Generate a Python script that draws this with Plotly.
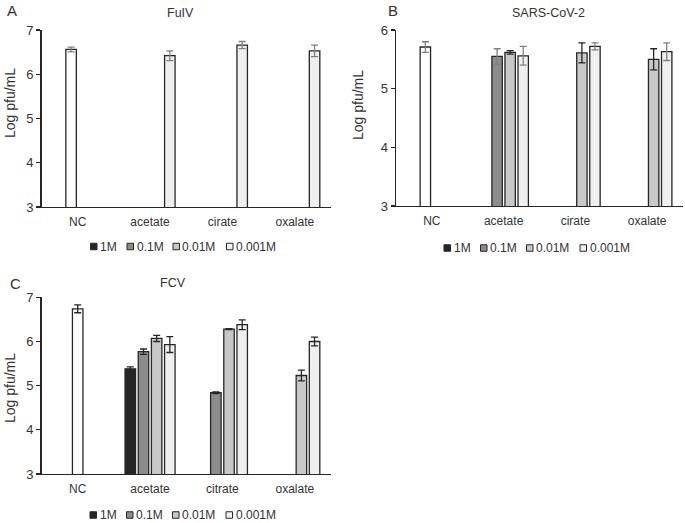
import plotly.graph_objects as go

# ---------------- data ----------------
CATS_AB = ["NC", "acetate", "cirate", "oxalate"]
CATS_C = ["NC", "acetate", "citrate", "oxalate"]
SERIES = ["1M", "0.1M", "0.01M", "0.001M"]

# Panel A: FuIV
A_NC = [6.56]
A_NC_ERR = [0.055]
A_1M = [None, None, None, None]
A_01M = [None, None, None, None]
A_001M = [None, None, None, None]
A_0001M = [None, 6.42, 6.66, 6.53]
A_1M_ERR = [0, 0, 0, 0]
A_01M_ERR = [0, 0, 0, 0]
A_001M_ERR = [0, 0, 0, 0]
A_0001M_ERR = [0, 0.11, 0.08, 0.13]

# Panel B: SARS-CoV-2
B_NC = [5.71]
B_NC_ERR = [0.09]
B_1M = [None, None, None, None]
B_01M = [None, 5.55, None, None]
B_001M = [None, 5.62, 5.61, 5.50]
B_0001M = [None, 5.56, 5.72, 5.63]
B_1M_ERR = [0, 0, 0, 0]
B_01M_ERR = [0, 0.13, 0, 0]
B_001M_ERR = [0, 0.03, 0.17, 0.18]
B_0001M_ERR = [0, 0.16, 0.06, 0.15]

# Panel C: FCV
C_NC = [6.74]
C_NC_ERR = [0.09]
C_1M = [None, 5.38, None, None]
C_01M = [None, 5.77, 4.84, None]
C_001M = [None, 6.07, 6.28, 5.23]
C_0001M = [None, 5.93, 6.38, 6.00]
C_1M_ERR = [0, 0.045, 0, 0]
C_01M_ERR = [0, 0.06, 0.02, 0]
C_001M_ERR = [0, 0.07, 0.01, 0.12]
C_0001M_ERR = [0, 0.18, 0.11, 0.10]

# ---------------- style ----------------
W, H = 685, 523
FONT = "Liberation Sans, Arial, sans-serif"
LINE = "#262626"
TXT = "#333333"
GRAY_ERR = "#808080"
FILL = {"NC": "#ffffff", "1M": "#262626", "0.1M": "#8c8c8c",
        "0.01M": "#c8c8c8", "0.001M": "#efefef"}
SLOT = 0.182
BAR_W = 0.145
SERIES_SLOT = {"1M": 0, "0.1M": 1, "0.01M": 2, "0.001M": 3}


def px_x(p):
    return p / W


def px_y(p):
    return 1 - p / H


panels = [
    dict(key="A", xa="x", ya="y", cats=CATS_AB, title="FuIV",
         nc=A_NC, nc_err=A_NC_ERR, nc_slot=1,
         series=[A_1M, A_01M, A_001M, A_0001M],
         errs=[A_1M_ERR, A_01M_ERR, A_001M_ERR, A_0001M_ERR],
         err_col={"NC": GRAY_ERR, "1M": GRAY_ERR, "0.1M": GRAY_ERR, "0.01M": GRAY_ERR, "0.001M": GRAY_ERR},
         yrange=[3, 7], xdom=[41.5, 331], ydom=[30, 207],
         letter=("A", 12.5, 10), ttl=(180, 12.5), ytitle=(10, 103),
         leg=(90.5, 246.5)),
    dict(key="B", xa="x2", ya="y2", cats=CATS_AB, title="SARS-CoV-2",
         nc=B_NC, nc_err=B_NC_ERR, nc_slot=1,
         series=[B_1M, B_01M, B_001M, B_0001M],
         errs=[B_1M_ERR, B_01M_ERR, B_001M_ERR, B_0001M_ERR],
         err_col={"NC": GRAY_ERR, "1M": LINE, "0.1M": GRAY_ERR, "0.01M": LINE, "0.001M": GRAY_ERR},
         yrange=[3, 6], xdom=[396, 683], ydom=[30, 206],
         letter=("B", 393, 10), ttl=(548.5, 13), ytitle=(358, 105),
         leg=(444, 248)),
    dict(key="C", xa="x3", ya="y3", cats=CATS_C, title="FCV",
         nc=C_NC, nc_err=C_NC_ERR, nc_slot=1.5,
         series=[C_1M, C_01M, C_001M, C_0001M],
         errs=[C_1M_ERR, C_01M_ERR, C_001M_ERR, C_0001M_ERR],
         err_col={"NC": LINE, "1M": LINE, "0.1M": LINE, "0.01M": LINE, "0.001M": LINE},
         yrange=[3, 7], xdom=[41.5, 331], ydom=[297.3, 474],
         letter=("C", 15, 283), ttl=(172.5, 283), ytitle=(10, 388),
         leg=(90, 515)),
]

LEG_OFFSETS = [0, 36.5, 82.5, 136]
SW = 6.5

fig = go.Figure()
annotations = []
shapes = []


def offset_for(slot):
    return (slot - 1.5) * SLOT - BAR_W / 2


for p in panels:
    # NC bar
    fig.add_trace(go.Bar(
        x=["NC"], y=p["nc"], xaxis=p["xa"], yaxis=p["ya"],
        width=BAR_W, offset=offset_for(p["nc_slot"]),
        marker=dict(color=FILL["NC"], line=dict(color=LINE, width=1.3)),
        error_y=dict(type="data", array=p["nc_err"], color=p["err_col"]["NC"],
                     thickness=1.3, width=3.5),
        showlegend=False, name="NC"))
    for s, vals, errs in zip(SERIES, p["series"], p["errs"]):
        if all(v is None for v in vals):
            continue
        fig.add_trace(go.Bar(
            x=p["cats"], y=vals, xaxis=p["xa"], yaxis=p["ya"],
            width=BAR_W, offset=offset_for(SERIES_SLOT[s]),
            marker=dict(color=FILL[s], line=dict(color=LINE, width=1.3)),
            error_y=dict(type="data", array=errs, color=p["err_col"][s],
                         thickness=1.3, width=3.5),
            showlegend=False, name=s))

    xn = "xaxis" if p["xa"] == "x" else "xaxis" + p["xa"][1:]
    yn = "yaxis" if p["ya"] == "y" else "yaxis" + p["ya"][1:]
    fig.layout[xn] = dict(
        domain=[px_x(p["xdom"][0]), px_x(p["xdom"][1])],
        anchor=p["ya"], type="category", categoryorder="array",
        categoryarray=p["cats"], range=[-0.5, 3.5],
        showline=True, linecolor=LINE, linewidth=1.3, ticks="",
        showgrid=False, zeroline=False, fixedrange=True, automargin=False,
        tickfont=dict(family=FONT, size=12, color=TXT),
        ticklabelstandoff=3)
    fig.layout[yn] = dict(
        domain=[px_y(p["ydom"][1]), px_y(p["ydom"][0])],
        anchor=p["xa"], range=p["yrange"], dtick=1,
        showline=True, linecolor=LINE, linewidth=1.3,
        ticks="outside", ticklen=4, tickwidth=1.3, tickcolor=LINE,
        showgrid=False, zeroline=False, fixedrange=True, automargin=False,
        tickfont=dict(family=FONT, size=13, color=TXT))

    # letter, title, y title
    L, lx, ly = p["letter"]
    annotations.append(dict(text=L, x=px_x(lx), y=px_y(ly), xref="paper", yref="paper",
                            xanchor="center", yanchor="middle", showarrow=False,
                            font=dict(family=FONT, size=15, color=TXT)))
    annotations.append(dict(text=p["title"], x=px_x(p["ttl"][0]), y=px_y(p["ttl"][1]),
                            xref="paper", yref="paper", xanchor="center", yanchor="middle",
                            showarrow=False, font=dict(family=FONT, size=12.5, color=TXT)))
    annotations.append(dict(text="Log pfu/mL", x=px_x(p["ytitle"][0]), y=px_y(p["ytitle"][1]),
                            xref="paper", yref="paper", xanchor="center", yanchor="middle",
                            textangle=-90, showarrow=False,
                            font=dict(family=FONT, size=14, color=TXT)))
    # legend
    lx0, ly0 = p["leg"]
    for s, off in zip(SERIES, LEG_OFFSETS):
        x0 = lx0 + off
        shapes.append(dict(type="rect", xref="paper", yref="paper",
                           x0=px_x(x0), x1=px_x(x0 + SW),
                           y0=px_y(ly0 + SW / 2), y1=px_y(ly0 - SW / 2),
                           fillcolor=FILL[s], line=dict(color=LINE, width=1)))
        annotations.append(dict(text=s, x=px_x(x0 + SW + 1), y=px_y(ly0),
                                xref="paper", yref="paper", xanchor="left", yanchor="middle",
                                showarrow=False, font=dict(family=FONT, size=12, color=TXT)))

fig.update_layout(
    width=W, height=H, margin=dict(l=0, r=0, t=0, b=0, pad=0, autoexpand=False),
    paper_bgcolor="white", plot_bgcolor="white",
    showlegend=False, annotations=annotations, shapes=shapes,
    font=dict(family=FONT, color=TXT), bargap=0)

fig.write_html("out.html", config={"displayModeBar": False, "staticPlot": True},
               post_script=(
                   "document.body.style.margin='0';document.body.style.padding='0';"
                   "document.body.style.overflow='hidden';"))
